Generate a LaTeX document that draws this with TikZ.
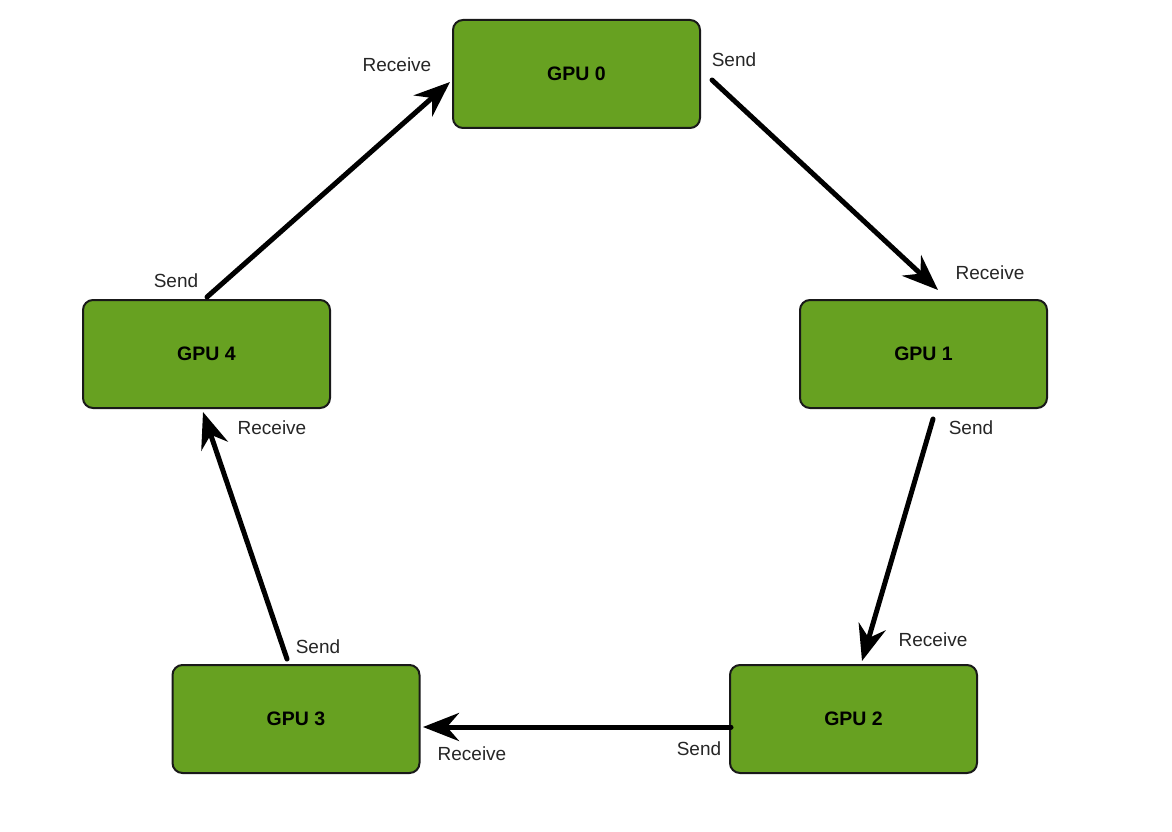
\documentclass[tikz,border=0pt]{standalone}
\usepackage{fontspec}
\setmainfont{Liberation Sans}
\usetikzlibrary{arrows.meta}
\definecolor{gpugreen}{RGB}{103,161,33}
\begin{document}
\begin{tikzpicture}[x=1pt,y=-1pt,
  gpu/.style={draw=black!90,line width=2pt,fill=gpugreen,rounded corners=10pt,
    minimum width=247pt,minimum height=108pt,
    font=\fontsize{19.5}{22}\selectfont\bfseries},
  lbl/.style={font=\fontsize{19}{22}\selectfont,text=black!85},
  link/.style={line width=5pt,line cap=round,
    -{Stealth[length=36pt,width=28pt,inset=12pt]}}]
\useasboundingbox[fill=white] (0,0) rectangle (1172,832);
% boxes
\node[gpu] (g0) at (576.5,74) {GPU 0};
\node[gpu] (g1) at (923.5,354) {GPU 1};
\node[gpu] (g2) at (853.5,719) {GPU 2};
\node[gpu] (g3) at (296,719) {GPU 3};
\node[gpu] (g4) at (206.5,354) {GPU 4};
% connector end points
\coordinate (s0) at (712,80);
\coordinate (r1) at (938,290);
\coordinate (s1) at (933,419);
\coordinate (r2) at (862,661);
\coordinate (s2) at (731,727);
\coordinate (r3) at (423,727);
\coordinate (s3) at (287,659);
\coordinate (r4) at (203,412);
\coordinate (s4) at (207,297);
\coordinate (r0) at (450,82);
% connectors
\draw[link] (s0) -- (r1);
\draw[link] (s1) -- (r2);
\draw[link] (s2) -- (r3);
\draw[link] (s3) -- (r4);
\draw[link] (s4) -- (r0);
% labels
\node[lbl] (l0r) at (397,65) {Receive};
\node[lbl] (l0s) at (734,60) {Send};
\node[lbl] (l1r) at (990,273) {Receive};
\node[lbl] (l1s) at (971,428) {Send};
\node[lbl] (l2r) at (933,640) {Receive};
\node[lbl] (l2s) at (699,749) {Send};
\node[lbl] (l3r) at (472,754) {Receive};
\node[lbl] (l3s) at (318,647) {Send};
\node[lbl] (l4r) at (272,428) {Receive};
\node[lbl] (l4s) at (176,281) {Send};
\end{tikzpicture}
\end{document}
